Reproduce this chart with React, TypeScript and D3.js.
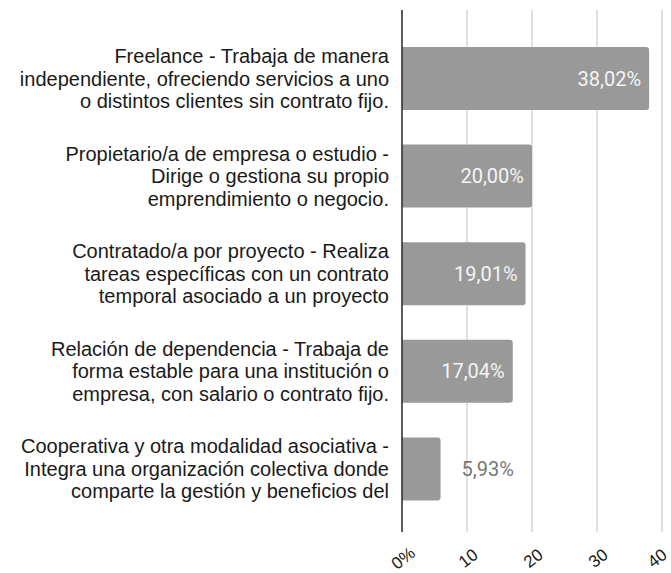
import React from "react";
import * as d3 from "d3";

const categories: string[][] = [
  ["Freelance - Trabaja de manera", "independiente, ofreciendo servicios a uno", "o distintos clientes sin contrato fijo."],
  ["Propietario/a de empresa o estudio -", "Dirige o gestiona su propio", "emprendimiento o negocio."],
  ["Contratado/a por proyecto - Realiza", "tareas específicas con un contrato", "temporal asociado a un proyecto"],
  ["Relación de dependencia - Trabaja de", "forma estable para una institución o", "empresa, con salario o contrato fijo."],
  ["Cooperativa y otra modalidad asociativa -", "Integra una organización colectiva donde", "comparte la gestión y beneficios del"],
];
const values: number[] = [38.02, 20.0, 19.01, 17.04, 5.93];
const tickValues: number[] = [0, 10, 20, 30, 40];
const tickLabels: string[] = ["0%", "10", "20", "30", "40"];

const W = 671;
const H = 573;

const locale = d3.formatLocale({ decimal: ",", thousands: ".", grouping: [3], currency: ["", "€"] });
const fmt = locale.format(".2f");

export default function App() {
  const x = d3.scaleLinear().domain([0, 40]).range([402, 662]);
  const y = d3
    .scaleBand<number>()
    .domain(values.map((_, i) => i))
    .range([29.7, 517.7])
    .paddingInner(0.3545)
    .paddingOuter(0.3545 / 2);
  const bw = y.bandwidth();
  const r = 3;
  const barPath = (v: number, i: number) => {
    const x0 = x(0);
    const x1 = x(v);
    const y0 = y(i) as number;
    const y1 = y0 + bw;
    return `M${x0},${y0}H${x1 - r}Q${x1},${y0} ${x1},${y0 + r}V${y1 - r}Q${x1},${y1} ${x1 - r},${y1}H${x0}Z`;
  };
  const lineH = 22.5;
  return (
    <svg width={W} height={H} style={{ position: "absolute", left: 0, top: 0, background: "#fff" }}>
      <rect width={W} height={H} fill="#fff" />
      {tickValues.slice(1).map((t) => (
        <line key={t} x1={x(t)} x2={x(t)} y1={10} y2={532} stroke="#cccccc" strokeWidth={1.2} />
      ))}
      {values.map((v, i) => (
        <path key={i} d={barPath(v, i)} fill="#999999" />
      ))}
      <line x1={x(0)} x2={x(0)} y1={10} y2={532} stroke="#333" strokeWidth={1.6} />
      {values.map((v, i) => {
        const cy = (y(i) as number) + bw / 2;
        const inside = x(v) - x(0) > 70;
        return (
          <text
            key={i}
            x={inside ? x(v) - 8 : x(v) + 21}
            y={cy}
            dy="0.35em"
            textAnchor={inside ? "end" : "start"}
            fontFamily="Roboto, sans-serif"
            fontSize={20}
            fill={inside ? "#f4f4f4" : "#777777"}
          >
            {fmt(v) + "%"}
          </text>
        );
      })}
      {categories.map((lines, i) => {
        const cy = (y(i) as number) + bw / 2;
        return (
          <text key={i} fontFamily="'Liberation Sans', Arial, sans-serif" fontSize={20} fill="#1a1a1a" textAnchor="end">
            {lines.map((l, j) => (
              <tspan key={j} x={389} y={cy + (j - (lines.length - 1) / 2) * lineH} dy="0.35em">
                {l}
              </tspan>
            ))}
          </text>
        );
      })}
      {tickValues.map((t, i) => (
        <text
          key={t}
          transform={`translate(${x(t) + (i === tickValues.length - 1 ? -5 : 1)},${558}) rotate(-38)`}
          textAnchor="middle"
          dy="0.35em"
          fontFamily="'Liberation Sans', Arial, sans-serif"
          fontSize={17}
          fill="#1a1a1a"
        >
          {tickLabels[i]}
        </text>
      ))}
    </svg>
  );
}
